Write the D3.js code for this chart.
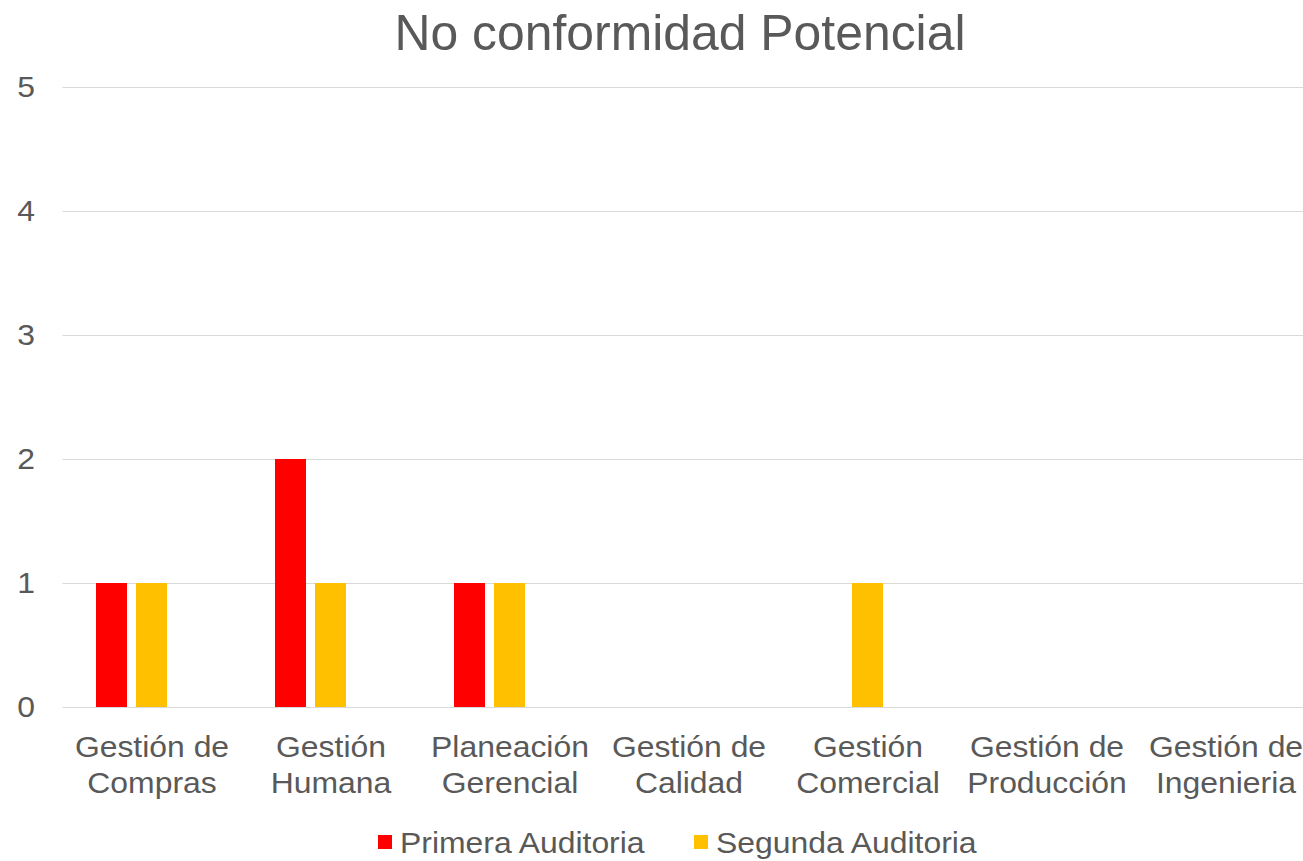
<!DOCTYPE html>
<html><head><meta charset="utf-8">
<script src="https://cdn.jsdelivr.net/npm/d3@7"></script>
<style>body{margin:0;background:#fff;overflow:hidden}svg{display:block}text{font-family:"Liberation Sans",Arial,sans-serif;fill:#595959}</style>
</head><body><svg id="c" width="1303" height="861"></svg>
<script>
const categories = [["Gestión de","Compras"],["Gestión","Humana"],["Planeación","Gerencial"],["Gestión de","Calidad"],["Gestión","Comercial"],["Gestión de","Producción"],["Gestión de","Ingenieria"]];
const seriesNames = ["Primera Auditoria","Segunda Auditoria","(vacía)"];
const primera = [1,2,1,0,0,0,0];
const segunda = [1,1,1,0,1,0,0];
const tercera = [0,0,0,0,0,0,0];
const colors = ["#FF0000","#FFC000","#5B9BD5"];
const yTicks = [0,1,2,3,4,5];

(function(){
const svg = d3.select("#c");
const pLeft = 62.5, pRight = 62.5 + 7*179, pTop = 87, pBottom = 707;
const FS = 29, SX = 1.1;
const x = d3.scaleBand().domain(d3.range(categories.length)).range([pLeft,pRight]).paddingInner(0).paddingOuter(0);
const y = d3.scaleLinear().domain([0,5]).range([pBottom,pTop]);
const inner = d3.scaleBand().domain([0,1,2]).range([33.5, 33.5+111]).paddingInner(9/40).paddingOuter(0);

svg.append("text").attr("x",680).attr("y",50).attr("text-anchor","middle")
  .attr("font-size",50).attr("textLength",571).attr("lengthAdjust","spacingAndGlyphs")
  .text("No conformidad Potencial");

const gy = svg.append("g");
gy.selectAll("line").data(yTicks).join("line")
  .attr("x1",pLeft).attr("x2",1303).attr("y1",d=>Math.round(y(d))+0.5).attr("y2",d=>Math.round(y(d))+0.5)
  .attr("stroke","#d9d9d9").attr("stroke-width",1.2);
gy.selectAll("g").data(yTicks).join("g")
  .attr("transform",d=>`translate(35,${y(d)+10}) scale(${SX},1)`)
  .append("text").attr("text-anchor","end").attr("font-size",FS).text(d=>d);

const series = [primera, segunda, tercera];
series.forEach((vals,si)=>{
  svg.append("g").selectAll("rect").data(vals).join("rect")
    .attr("x",(d,i)=>x(i)+inner(si)).attr("width",inner.bandwidth())
    .attr("y",d=>y(d)).attr("height",d=>y(0)-y(d)).attr("fill",colors[si]);
});

const gx = svg.append("g");
categories.forEach((c,i)=>{
  const cx = x(i)+x.bandwidth()/2;
  const g = gx.append("g").attr("transform",`translate(${cx},0) scale(${SX},1)`);
  const t = g.append("text").attr("text-anchor","middle").attr("font-size",FS);
  t.append("tspan").attr("x",0).attr("y",757).text(c[0]);
  t.append("tspan").attr("x",0).attr("y",793).text(c[1]);
});

const legend = [{n:seriesNames[0],c:colors[0],x:378},{n:seriesNames[1],c:colors[1],x:694}];
const lg = svg.append("g");
legend.forEach(l=>{
  lg.append("rect").attr("x",l.x).attr("y",835).attr("width",14).attr("height",14).attr("fill",l.c);
  lg.append("g").attr("transform",`translate(${l.x+22},853) scale(${SX},1)`)
    .append("text").attr("font-size",FS).text(l.n);
});
})();
</script></body></html>
